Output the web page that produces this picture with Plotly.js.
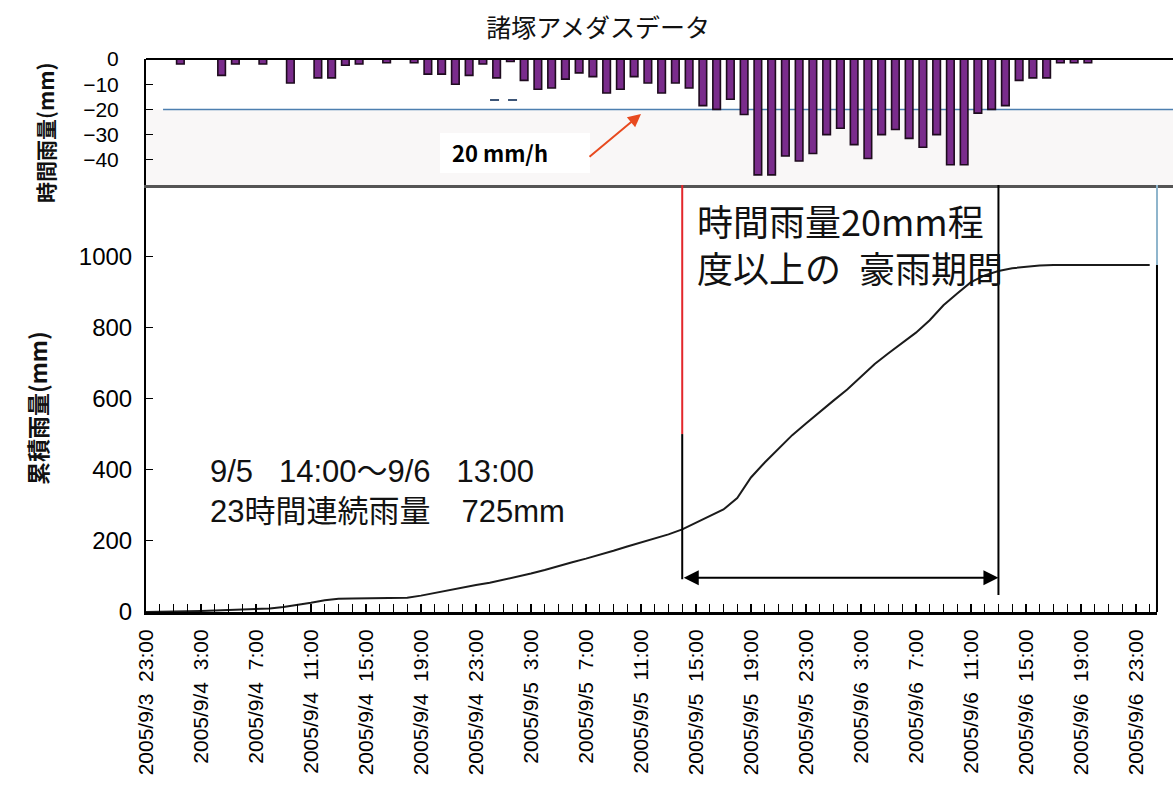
<!DOCTYPE html>
<html lang="ja">
<head>
<meta charset="utf-8">
<script src="https://cdn.plot.ly/plotly-3.0.1.min.js"></script>
<style>
  html, body { margin: 0; padding: 0; background: #fff; }
  #chart { width: 1173px; height: 810px; }
</style>
</head>
<body>
<div id="chart"></div>
<script>
// Hourly time stamps (category axis shared by both panels)
const hours = [
  '2005/9/3 23:00',
  '2005/9/4 0:00', '2005/9/4 1:00', '2005/9/4 2:00', '2005/9/4 3:00', '2005/9/4 4:00', '2005/9/4 5:00',
  '2005/9/4 6:00', '2005/9/4 7:00', '2005/9/4 8:00', '2005/9/4 9:00', '2005/9/4 10:00', '2005/9/4 11:00',
  '2005/9/4 12:00', '2005/9/4 13:00', '2005/9/4 14:00', '2005/9/4 15:00', '2005/9/4 16:00', '2005/9/4 17:00',
  '2005/9/4 18:00', '2005/9/4 19:00', '2005/9/4 20:00', '2005/9/4 21:00', '2005/9/4 22:00', '2005/9/4 23:00',
  '2005/9/5 0:00', '2005/9/5 1:00', '2005/9/5 2:00', '2005/9/5 3:00', '2005/9/5 4:00', '2005/9/5 5:00',
  '2005/9/5 6:00', '2005/9/5 7:00', '2005/9/5 8:00', '2005/9/5 9:00', '2005/9/5 10:00', '2005/9/5 11:00',
  '2005/9/5 12:00', '2005/9/5 13:00', '2005/9/5 14:00', '2005/9/5 15:00', '2005/9/5 16:00', '2005/9/5 17:00',
  '2005/9/5 18:00', '2005/9/5 19:00', '2005/9/5 20:00', '2005/9/5 21:00', '2005/9/5 22:00', '2005/9/5 23:00',
  '2005/9/6 0:00', '2005/9/6 1:00', '2005/9/6 2:00', '2005/9/6 3:00', '2005/9/6 4:00', '2005/9/6 5:00',
  '2005/9/6 6:00', '2005/9/6 7:00', '2005/9/6 8:00', '2005/9/6 9:00', '2005/9/6 10:00', '2005/9/6 11:00',
  '2005/9/6 12:00', '2005/9/6 13:00', '2005/9/6 14:00', '2005/9/6 15:00', '2005/9/6 16:00', '2005/9/6 17:00',
  '2005/9/6 18:00', '2005/9/6 19:00', '2005/9/6 20:00', '2005/9/6 21:00', '2005/9/6 22:00', '2005/9/6 23:00',
  '2005/9/7 0:00'
];

// Hours that carry a label on the time axis, and the text shown for them
const tickHours = [
  '2005/9/3 23:00', '2005/9/4 3:00', '2005/9/4 7:00', '2005/9/4 11:00', '2005/9/4 15:00',
  '2005/9/4 19:00', '2005/9/4 23:00', '2005/9/5 3:00', '2005/9/5 7:00', '2005/9/5 11:00',
  '2005/9/5 15:00', '2005/9/5 19:00', '2005/9/5 23:00', '2005/9/6 3:00', '2005/9/6 7:00',
  '2005/9/6 11:00', '2005/9/6 15:00', '2005/9/6 19:00', '2005/9/6 23:00'
];
const tickLabels = [
  '2005/9/3\u00a0\u00a023:00', '2005/9/4\u00a0\u00a03:00', '2005/9/4\u00a0\u00a07:00', '2005/9/4\u00a0\u00a011:00', '2005/9/4\u00a0\u00a015:00',
  '2005/9/4\u00a0\u00a019:00', '2005/9/4\u00a0\u00a023:00', '2005/9/5\u00a0\u00a03:00', '2005/9/5\u00a0\u00a07:00', '2005/9/5\u00a0\u00a011:00',
  '2005/9/5\u00a0\u00a015:00', '2005/9/5\u00a0\u00a019:00', '2005/9/5\u00a0\u00a023:00', '2005/9/6\u00a0\u00a03:00', '2005/9/6\u00a0\u00a07:00',
  '2005/9/6\u00a0\u00a011:00', '2005/9/6\u00a0\u00a015:00', '2005/9/6\u00a0\u00a019:00', '2005/9/6\u00a0\u00a023:00'
];

// Value-axis ticks; the outermost ones carry no label
const rainTicks = [-50, -40, -30, -20, -10, 0];
const rainTickText = ['', '\u221240', '\u221230', '\u221220', '\u221210', '0'];
const cumTicks = [0, 200, 400, 600, 800, 1000, 1200];
const cumTickText = ['0', '200', '400', '600', '800', '1000', ''];

// Hourly rainfall (mm, drawn downward) starting at 2005/9/4 2:00
const rainStart = '2005/9/4 2:00';
const hourlyRain = [
  -2, 0, 0, -6.5, -2, 0, -2, 0, -9.5, 0,
  -7.5, -7.5, -2.5, -2, 0, -1.5, 0, -1.5, -6, -6,
  -10, -6.5, -2, -7.5, -1, -8.5, -12, -11.5, -8, -5.5,
  -7, -13.5, -12, -7, -9.5, -13.5, -9.5, -11.5, -18.5, -20,
  -16, -22, -46, -46, -38.5, -40.5, -37.5, -30, -27.5, -34,
  -39.5, -30, -28, -31.5, -35, -30, -42, -42, -21.5, -20,
  -18.5, -8.5, -7.5, -7.5, -1.5, -1.5, -1.5
];

// Cumulative rainfall (mm) for every hour in `hours`
const cumRain = [
  0, 0, 1, 2, 3, 4, 6, 7, 8, 10,
  14, 19, 26, 33, 37, 38, 38, 39, 39, 40,
  46, 54, 62, 68, 76, 82, 90, 98, 108, 118,
  130, 140, 150, 160, 172, 184, 195, 206, 218, 232,
  250, 268, 288, 320, 378, 420, 458, 497, 530, 563,
  594, 625, 660, 697, 727, 756, 785, 820, 862, 895,
  927, 946, 958, 966, 971, 974, 975, 975, 975, 975,
  975, 975, 975, 975
];

// Heavy-rain period (hourly rain around 20 mm or more)
const heavyStart = '2005/9/5 14:00';
const heavyEnd = '2005/9/6 13:00';
const thresholdMm = -20;

const i0 = hours.indexOf(rainStart);
const rainHours = hours.slice(i0, i0 + hourlyRain.length);
const ticktext = hours.map(h => {
  const k = tickHours.indexOf(h);
  return k >= 0 ? tickLabels[k] : '';
});
const hs = hours.indexOf(heavyStart);
const he = hours.indexOf(heavyEnd);

const JP = '"Noto Sans CJK JP", sans-serif';
const SANS = '"Liberation Sans", Arial, "Noto Sans CJK JP", sans-serif';

const traces = [
  {
    type: 'bar',
    x: rainHours,
    y: hourlyRain,
    xaxis: 'x2',
    yaxis: 'y2',
    marker: { color: '#7a2c8c', line: { color: '#1e0b1e', width: 1.6 } },
    hoverinfo: 'skip'
  },
  {
    type: 'scatter',
    mode: 'lines',
    x: hours,
    y: cumRain,
    xaxis: 'x',
    yaxis: 'y',
    line: { color: '#1b1b1b', width: 2 },
    hoverinfo: 'skip'
  }
];

const layout = {
  width: 1173,
  height: 810,
  margin: { l: 146, r: 0, t: 59, b: 198 },
  paper_bgcolor: '#ffffff',
  plot_bgcolor: 'rgba(0,0,0,0)',
  showlegend: false,
  bargap: 0.45,
  font: { family: SANS, color: '#000' },
  title: {
    text: '諸塚アメダスデータ',
    font: { family: JP, size: 25, color: '#111' },
    x: 0.51, xanchor: 'center',
    y: 0.9654, yanchor: 'middle'
  },
  xaxis: {
    type: 'category', categoryorder: 'array', categoryarray: hours,
    domain: [0, 0.9844], range: [0, 73.53], anchor: 'y',
    tickmode: 'array', tickvals: hours, ticktext: ticktext,
    tickangle: -90, ticks: 'inside', ticklen: 8, tickwidth: 1.2, tickcolor: '#000',
    tickfont: { family: SANS, size: 21, color: '#000' },
    ticklabelstandoff: 6,
    showline: true, linecolor: '#000', linewidth: 3,
    showgrid: false, zeroline: false, fixedrange: true
  },
  yaxis: {
    domain: [0, 0.7722], range: [0, 1200], anchor: 'x',
    tickmode: 'array', tickvals: cumTicks, ticktext: cumTickText,
    ticks: 'inside', ticklen: 7, tickcolor: '#000',
    tickfont: { family: SANS, size: 24, color: '#000' },
    ticklabelstandoff: 7,
    showline: true, linecolor: '#000', linewidth: 2,
    showgrid: false, zeroline: false, fixedrange: true
  },
  xaxis2: {
    type: 'category', categoryorder: 'array', categoryarray: hours,
    domain: [0, 1], range: [0.5, 75.19], anchor: 'y2',
    showticklabels: false, ticks: '',
    showline: true, linecolor: '#555', linewidth: 3,
    showgrid: false, zeroline: false, fixedrange: true
  },
  yaxis2: {
    domain: [0.7722, 1], range: [-50, 0], anchor: 'x2',
    tickmode: 'array', tickvals: rainTicks, ticktext: rainTickText,
    ticks: 'inside', ticklen: 7, tickcolor: '#000',
    tickfont: { family: SANS, size: 21, color: '#000' },
    ticklabelstandoff: 21,
    showline: true, linecolor: '#000', linewidth: 2,
    showgrid: false, zeroline: false, fixedrange: true
  },
  shapes: [
    // pale band below the 20 mm/h level
    { type: 'rect', layer: 'below', xref: 'x2 domain', x0: 0, x1: 1, yref: 'y2', y0: thresholdMm, y1: -50,
      fillcolor: '#f9f7f7', line: { width: 0 } },
    // white label box for "20 mm/h"
    { type: 'rect', layer: 'below', xref: 'x2 domain', x0: 0.2863, x1: 0.4323, yref: 'y2', y0: -29.4, y1: -45.2,
      fillcolor: '#ffffff', line: { width: 0 } },
    // 20 mm/h reference line
    { type: 'line', layer: 'below', xref: 'x2 domain', x0: 0.0166, x1: 1, yref: 'y2', y0: thresholdMm, y1: thresholdMm,
      line: { color: '#4d7fb0', width: 1.5 } },
    // short dashed mark
    { type: 'line', layer: 'below', xref: 'x2 domain', x0: 0.335, x1: 0.367, yref: 'y2', y0: -16.3, y1: -16.3,
      line: { color: '#3d5577', width: 2, dash: 'dash' } },
    // top frame of the hourly panel
    { type: 'line', layer: 'above', xref: 'x2 domain', x0: 0, x1: 1, yref: 'y2 domain', y0: 1, y1: 1,
      line: { color: '#000', width: 2 } },
    // start of heavy-rain period
    { type: 'line', layer: 'above', xref: 'x', x0: hs, x1: hs, yref: 'y', y0: 500, y1: 1200,
      line: { color: '#e3262b', width: 2 } },
    { type: 'line', layer: 'above', xref: 'x', x0: hs, x1: hs, yref: 'y', y0: 92, y1: 500,
      line: { color: '#000', width: 2 } },
    // end of heavy-rain period
    { type: 'line', layer: 'above', xref: 'x', x0: he, x1: he, yref: 'y', y0: 48, y1: 1200,
      line: { color: '#000', width: 2 } },
    // right frame of the cumulative panel
    { type: 'line', layer: 'above', xref: 'x domain', x0: 1, x1: 1, yref: 'y', y0: 975, y1: 1200,
      line: { color: '#8fb5cc', width: 2 } },
    { type: 'line', layer: 'above', xref: 'x domain', x0: 1, x1: 1, yref: 'y', y0: 0, y1: 975,
      line: { color: '#000', width: 2 } }
  ],
  annotations: [
    { xref: 'paper', yref: 'paper', x: -0.0983, y: 0.8662, xanchor: 'center', yanchor: 'middle',
      textangle: -90, showarrow: false,
      text: '時間雨量(mm)', font: { family: JP, size: 21, weight: 700, color: '#111' } },
    { xref: 'paper', yref: 'paper', x: -0.1061, y: 0.3689, xanchor: 'center', yanchor: 'middle',
      textangle: -90, showarrow: false,
      text: '累積雨量(mm)', font: { family: JP, size: 23, weight: 700, color: '#111' } },
    { xref: 'x2 domain', yref: 'y2', x: 0.3447, y: -36.9, xanchor: 'center', yanchor: 'middle', showarrow: false,
      text: '20 mm/h', font: { family: JP, size: 22, weight: 700, color: '#000' } },
    { xref: 'x2 domain', yref: 'y2', x: 0.482, y: -21.8, ax: -53, ay: 44, text: '',
      showarrow: true, arrowhead: 2, arrowsize: 1.3, arrowwidth: 2, arrowcolor: '#e84a1f' },
    { xref: 'x', yref: 'y', x: he, y: 96, axref: 'x', ayref: 'y', ax: hs, ay: 96, text: '',
      showarrow: true, arrowside: 'end+start', arrowhead: 2, arrowsize: 1.5, arrowwidth: 2, arrowcolor: '#000' },
    { xref: 'paper', yref: 'paper', x: 0.5346, y: 0.7595, xanchor: 'left', yanchor: 'top', align: 'left',
      showarrow: false, text: '時間雨量20mm程<br>度以上の\u2002豪雨期間',
      font: { family: JP, size: 36, color: '#111' } },
    { xref: 'paper', yref: 'paper', x: 0.0604, y: 0.2893, xanchor: 'left', yanchor: 'top', align: 'left',
      showarrow: false, text: '9/5\u00a0\u00a0\u00a014:00～9/6\u00a0\u00a0\u00a013:00<br>23時間連続雨量\u3000725mm',
      font: { family: SANS, size: 31, color: '#111' } }
  ]
};

Plotly.newPlot('chart', traces, layout, { displayModeBar: false, staticPlot: true });
</script>
</body>
</html>
